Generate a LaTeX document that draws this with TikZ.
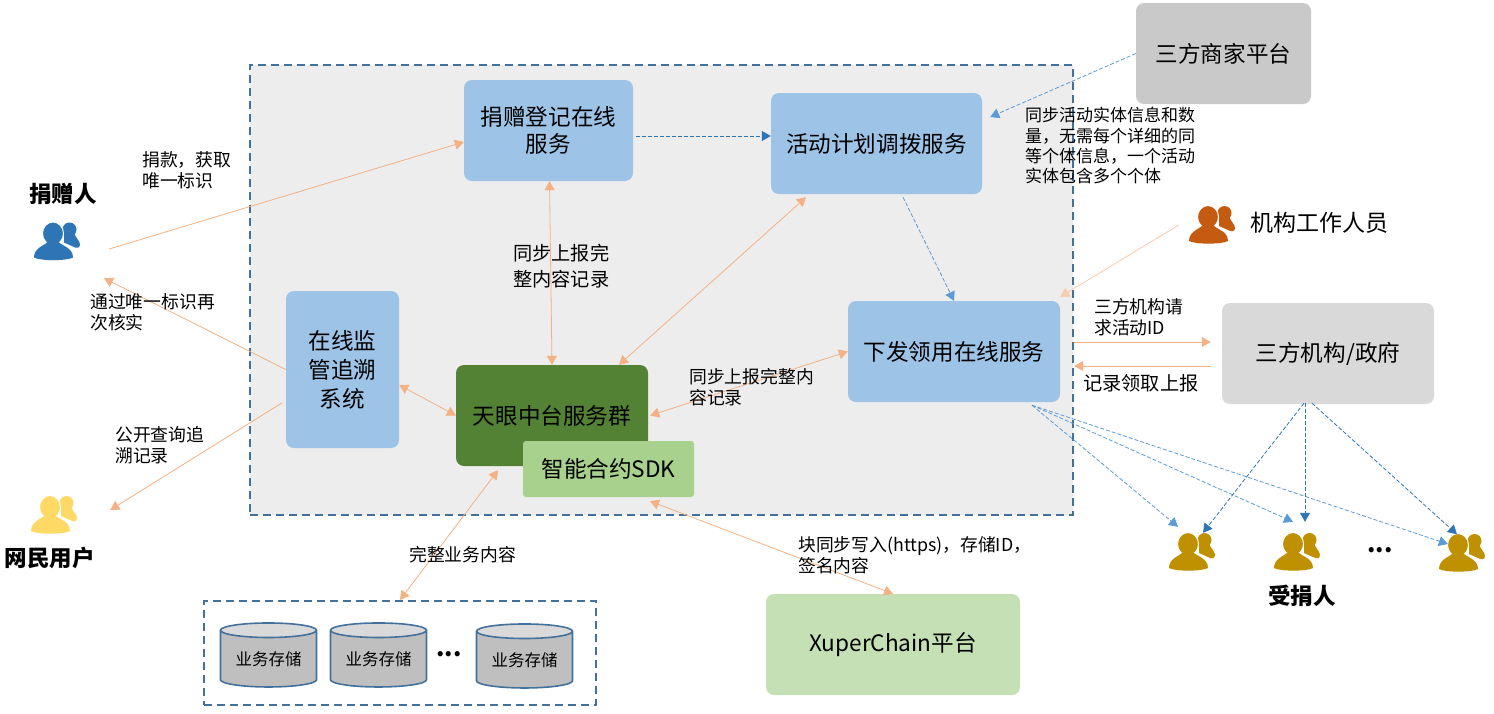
\documentclass[tikz,border=0pt]{standalone}
\usepackage{fontspec}
\setmainfont{Noto Sans CJK SC}
\usetikzlibrary{arrows.meta,shapes.geometric}
\definecolor{groupborder}{RGB}{65,113,156}
\definecolor{groupfill}{RGB}{237,237,237}
\definecolor{svcblue}{RGB}{157,195,230}
\definecolor{coredark}{RGB}{84,130,53}
\definecolor{sdkgreen}{RGB}{169,209,142}
\definecolor{chaingreen}{RGB}{197,224,180}
\definecolor{greydark}{RGB}{201,201,201}
\definecolor{greylight}{RGB}{217,217,217}
\definecolor{dbgrey}{RGB}{191,191,191}
\definecolor{linkorange}{RGB}{244,177,131}
\definecolor{linkpale}{RGB}{248,203,173}
\definecolor{linkblue}{RGB}{91,155,213}
\definecolor{linkdeep}{RGB}{46,117,182}
\definecolor{donorblue}{RGB}{46,117,182}
\definecolor{netyellow}{RGB}{255,217,102}
\definecolor{staffbrown}{RGB}{197,90,17}
\definecolor{recvgold}{RGB}{191,144,0}
\tikzset{
  tipa/.tip={Triangle[length=9pt,width=10pt]},
  box/.style={rectangle, rounded corners=8pt, align=center, inner sep=0pt, text=black,
    font=\fontsize{22.6}{27.5}\selectfont},
  dashgroup/.style={rectangle, draw=groupborder, line width=2pt, dash pattern=on 8pt off 5pt,
    inner sep=0pt},
  store/.style={cylinder, shape border rotate=90, aspect=0.22, draw=groupborder, line width=1.6pt,
    cylinder uses custom fill, cylinder body fill=dbgrey, cylinder end fill=greylight,
    minimum height=64, minimum width=96, inner sep=0pt, font=\fontsize{16.5}{20}\selectfont},
  note/.style={anchor=north west, align=left, inner sep=0pt, font=\fontsize{17.8}{21}\selectfont},
  notesmall/.style={note, font=\fontsize{17}{20.4}\selectfont},
  notelarge/.style={note, font=\fontsize{19.2}{26}\selectfont},
  dotsnote/.style={inner sep=0pt, font=\fontsize{24}{26}\bfseries},
  title/.style={inner sep=0pt, font=\fontsize{22.5}{26}\bfseries},
  iconbox/.style={rectangle, inner sep=0pt, minimum width=46, minimum height=37},
  orangeline/.style={draw=linkorange, line width=0.8pt, -tipa},
  orangeboth/.style={draw=linkorange, line width=0.8pt, tipa-tipa},
  paleline/.style={draw=linkpale, line width=0.8pt, -tipa},
  blueline/.style={draw=linkblue, line width=0.8pt, dash pattern=on 4pt off 2pt, -tipa},
  deepline/.style={draw=linkdeep, line width=0.8pt, dash pattern=on 4pt off 2pt, -tipa},
  pics/people/.style={code={
    \fill[#1] (12.5,-12) circle (7);
    \fill[#1] (7,-9) -- (17,-9) .. controls (18,-4) and (23,-1) .. (23,3)
      .. controls (23,7) and (19,7) .. (16,5) -- (7,1) -- cycle;
    \path[fill=#1, draw=white, line width=1pt] (-23,16) .. controls (-23,6) and (-12,4) .. (-9,0)
      -- (1,0) .. controls (4,4) and (16,6) .. (16,16)
      .. controls (10,19.5) and (-17,19.5) .. (-23,16) -- cycle;
    \path[fill=#1, draw=white, line width=1pt] (-4,-8) ellipse (10.5 and 11.5);
    \fill[#1] (-23,16) .. controls (-23,6) and (-12,4) .. (-9,0)
      -- (1,0) .. controls (4,4) and (16,6) .. (16,16)
      .. controls (10,19.5) and (-17,19.5) .. (-23,16) -- cycle;
  }}
}
\begin{document}
\begin{tikzpicture}[x=1pt,y=-1pt]
  \useasboundingbox (0,0) rectangle (1494,713);

  \node[dashgroup, fill=groupfill, minimum width=823, minimum height=450] (center) at (661.5,290) {};
  \node[dashgroup, minimum width=392, minimum height=104] (stores) at (400,653) {};

  \node[box, fill=svcblue, minimum width=169, minimum height=101] (don) at (548.5,130.5) {捐赠登记在线\\服务};
  \node[box, fill=svcblue, minimum width=211, minimum height=101] (act) at (876.5,143.5) {活动计划调拨服务};
  \node[box, fill=svcblue, minimum width=212, minimum height=101] (iss) at (954,351.5) {下发领用在线服务};
  \node[box, fill=svcblue, minimum width=113, minimum height=157, font=\fontsize{22.6}{29}\selectfont] (mon) at (342.5,369.5) {在线监\\管追溯\\系统};
  \node[box, fill=coredark, minimum width=192, minimum height=101] (tian) at (552,415.5) {天眼中台服务群};
  \node[box, fill=sdkgreen, rounded corners=3pt, minimum width=171, minimum height=56] (sdk) at (608.5,469) {智能合约SDK};
  \node[box, fill=greydark, minimum width=175, minimum height=101] (merchant) at (1223.5,53.5) {三方商家平台};
  \node[box, fill=greylight, minimum width=212, minimum height=101] (org) at (1328,353.5) {三方机构/政府};
  \node[box, fill=chaingreen, minimum width=254, minimum height=101] (xuper) at (893,644.5) {XuperChain平台};

  \node[store] (st1) at (268.5,659) {业务存储};
  \node[store, right of=st1, node distance=110pt] (st2) {业务存储};
  \node[store, right of=st2, node distance=146pt, yshift=-1pt] (st3) {业务存储};

  \node[iconbox] (donor) at (57,241.5) {};
  \node[iconbox] (net) at (54,515) {};
  \node[iconbox] (staff) at (1212,225) {};
  \node[iconbox] (rec1) at (1192,552) {};
  \node[iconbox, right of=rec1, node distance=105pt] (rec2) {};
  \node[iconbox, right of=rec2, node distance=165pt, yshift=-1pt] (rec3) {};
  \pic at (donor) {people=donorblue};
  \pic at (net) {people=netyellow};
  \pic at (staff) {people=staffbrown};
  \pic at (rec1) {people=recvgold};
  \pic at (rec2) {people=recvgold};
  \pic at (rec3) {people=recvgold};

  \draw[orangeline] ([xshift=29,yshift=-7.5]donor.east) -- ([yshift=-11.5]don.west);
  \draw[orangeline] (mon.west) -- ([xshift=47,yshift=-18]donor.south);
  \draw[orangeline] ([xshift=-4,yshift=-33.5]mon.west) -- ([xshift=33,yshift=5]net.east);
  \draw[orangeboth] ([xshift=1]don.south) -- (tian.north);
  \draw[orangeboth] ([xshift=-70.5,yshift=-3]act.south) -- ([xshift=67]tian.north);
  \draw[orangeboth] ([yshift=-15.5]mon.east) -- (tian.west);
  \draw[orangeboth] (iss.west) -- ([xshift=2]tian.east);
  \draw[orangeboth] ([xshift=-54,yshift=-4]tian.south) -- (stores.north);
  \draw[orangeboth] ([xshift=41.5,yshift=-4]sdk.south) -- (xuper.north);
  \draw[paleline] ([xshift=-10]staff.west) -- ([yshift=4]iss.north east);
  \draw[orangeline] ([xshift=14,yshift=9.5]iss.east) -- ([xshift=-11,yshift=11.5]org.west);
  \draw[orangeline] ([xshift=-11,yshift=-12.5]org.west) -- ([xshift=14,yshift=-14.5]iss.east);

  \draw[deepline] ([xshift=3,yshift=-5.5]don.east) -- ([yshift=7.5]act.west);
  \draw[blueline] (merchant.west) -- ([xshift=8,yshift=26.5]act.east);
  \draw[blueline] ([xshift=26.5,yshift=-3]act.south) -- (iss.north);
  \draw[blueline] ([xshift=78,yshift=-3]iss.south) -- ([xshift=-14,yshift=6.5]rec1.north);
  \draw[blueline] ([xshift=78,yshift=-3]iss.south) -- ([xshift=-4,yshift=11.5]rec2.north);
  \draw[blueline] ([xshift=78,yshift=-3]iss.south) -- ([xshift=9,yshift=9]rec3.west);
  \draw[deepline] ([xshift=-24,yshift=1]org.south) -- ([xshift=11,yshift=0.5]rec1.north);
  \draw[deepline] ([xshift=-23,yshift=1]org.south) -- ([xshift=8,yshift=11.5]rec2.north);
  \draw[deepline] ([xshift=-16,yshift=1]org.south) -- ([xshift=-5]rec3.north);

  \node[note] (n1) at (142,151) {捐款，获取\\唯一标识};
  \node[note] (n2) at (90,293) {通过唯一标识再\\次核实};
  \node[note] (n3) at (115,426) {公开查询追\\溯记录};
  \node[notelarge] (n4) at (513,244) {同步上报完\\整内容记录};
  \node[note] (n5) at (689,368) {同步上报完整内\\容记录};
  \node[note] (n6) at (409,546) {完整业务内容};
  \node[note] (n7) at (798,536) {块同步写入(https)，存储ID，\\签名内容};
  \node[notesmall] (n8) at (1025,107) {同步活动实体信息和数\\量，无需每个详细的同\\等个体信息，一个活动\\实体包含多个个体};
  \node[note] (n9) at (1094,298) {三方机构请\\求活动ID};
  \node[notelarge] (n10) at (1083,374) {记录领取上报};
  \node[dotsnote] (dots1) at (449,654) {...};
  \node[dotsnote] (dots2) at (1380,550) {...};
  \node[title] (t1) at (63,194) {捐赠人};
  \node[title] (t2) at (50,558) {网民用户};
  \node[title] (t3) at (1302,596) {受捐人};
  \node[title, font=\fontsize{23}{26}\selectfont, anchor=west] (t4) at (1250,223) {机构工作人员};
\end{tikzpicture}
\end{document}
